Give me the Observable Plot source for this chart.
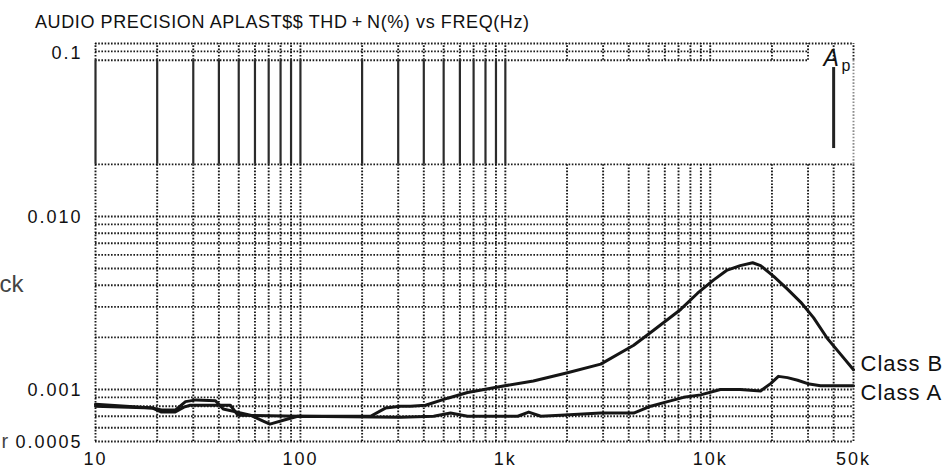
<!DOCTYPE html>
<html>
<head>
<meta charset="utf-8">
<script src="https://cdn.jsdelivr.net/npm/d3@7"></script>
<script src="https://cdn.jsdelivr.net/npm/@observablehq/plot@0.6"></script>
<style>
  html, body { margin: 0; padding: 0; background: #fff; }
  #wrap { position: relative; width: 949px; height: 469px; }
  #title { position: absolute; left: 35px; top: 13px; font: 18px/18px 'Liberation Sans', Arial, sans-serif; letter-spacing: 0.6px; color: #111; white-space: nowrap; }
</style>
</head>
<body>
<div id="wrap"><div id="chart"></div><div id="title"></div></div>
<script>
// ---- Data ----
const titleText = "AUDIO PRECISION APLAST$$ THD\u2009+\u2009N(%) vs FREQ(Hz)";

const freqTicks = [10, 100, 1000, 10000, 50000];
const freqTickLabels = ["10", "100", "1k", "10k", "50k"];
const thdTicks = [0.1, 0.01, 0.001, 0.0005];
const thdTickLabels = ["0.1", "0.010", "0.001", "0.0005"];

const seriesNames = ["Class B", "Class A"];

const classBFreq = [10, 19, 21, 24.5, 27, 29, 45.5, 49.5, 100, 220, 260, 308, 345, 408, 523, 654, 948, 1370, 2010, 2920, 4230, 5290, 7170, 8670, 10400, 12100, 14000, 16100, 17600, 20400, 23800, 27600, 31900, 37300, 43200, 50000];
const classBThd = [0.00080, 0.00078, 0.00074, 0.00074, 0.00079, 0.00081, 0.00081, 0.00071, 0.00070, 0.00070, 0.00078, 0.00080, 0.00080, 0.00081, 0.00089, 0.00096, 0.00104, 0.00112, 0.00125, 0.00140, 0.00180, 0.00220, 0.00290, 0.00360, 0.00430, 0.00490, 0.00520, 0.00540, 0.00520, 0.00450, 0.00380, 0.00320, 0.00260, 0.00197, 0.00160, 0.00130];

const classAFreq = [10, 19, 21, 24.5, 27.5, 31, 38.5, 42, 57, 65, 71, 85, 97, 308, 447, 540, 654, 1150, 1300, 1490, 1860, 2920, 4230, 5120, 6190, 7410, 8980, 11200, 14000, 17600, 19700, 21500, 23800, 26700, 29900, 34500, 50000];
const classAThd = [0.00082, 0.00078, 0.00076, 0.00076, 0.00085, 0.00087, 0.00086, 0.00077, 0.00071, 0.00066, 0.00063, 0.00067, 0.00070, 0.00069, 0.00070, 0.00073, 0.00070, 0.00070, 0.00074, 0.00070, 0.00071, 0.00073, 0.00073, 0.00080, 0.00085, 0.00090, 0.00093, 0.00100, 0.00100, 0.00098, 0.00108, 0.00119, 0.00117, 0.00113, 0.00108, 0.00105, 0.00105];

// grid lines of the analyzer plot
const gridFreqs = [10, 20, 30, 40, 50, 60, 70, 80, 90, 100, 200, 300, 400, 500, 600, 700, 800, 900, 1000, 2000, 3000, 4000, 5000, 6000, 7000, 8000, 9000, 10000, 20000, 30000, 40000, 50000];
const bandFreqs = [10, 20, 30, 40, 50, 60, 70, 80, 90, 100, 200, 300, 400, 500, 600, 700, 800, 900, 1000];
const gridThdFull = [0.0005, 0.0006, 0.0007, 0.0008, 0.0009, 0.001, 0.002, 0.003, 0.004, 0.005, 0.006, 0.007, 0.008, 0.009, 0.01, 0.02, 0.1];
const gridThdShort = [0.08, 0.09];
const logoBar = [{f: 40000, lo: 0.0247, hi: 0.0726}];

// ---- Build table ----
const rows = [];
classBFreq.forEach((f, i) => rows.push({series: seriesNames[0], f, v: classBThd[i]}));
classAFreq.forEach((f, i) => rows.push({series: seriesNames[1], f, v: classAThd[i]}));
const endB = [{series: seriesNames[0], f: classBFreq[classBFreq.length - 1], v: classBThd[classBThd.length - 1]}];
const endA = [{series: seriesNames[1], f: classAFreq[classAFreq.length - 1], v: classAThd[classAThd.length - 1]}];

const dotted = {stroke: "#000", strokeWidth: 1.9, strokeDasharray: "1.6 1.6", strokeOpacity: 0.9};
const font = "'Liberation Sans', Arial, Helvetica, sans-serif";
const fLabel = d => freqTickLabels[freqTicks.indexOf(d)];
const yLabel = d => thdTickLabels[thdTicks.indexOf(d)];

const chart = Plot.plot({
  width: 949,
  height: 469,
  marginLeft: 95,
  marginRight: 96,
  marginTop: 43,
  marginBottom: 28,
  style: {fontFamily: font, background: "#fff", color: "#111", overflow: "visible"},
  x: {type: "log", domain: [10, 50000], axis: null, label: null},
  y: {type: "log", domain: [0.0005, 0.1], axis: null, label: null},
  marks: [
    // horizontal dotted grid
    Plot.ruleY(gridThdFull, {y: d => d, x1: 10, x2: 50000, ...dotted}),
    Plot.ruleY(gridThdShort, {y: d => d, x1: 10, x2: 30000, ...dotted}),
    // vertical dotted grid (lower part and top strip)
    Plot.ruleX(gridFreqs, {x: d => d, y1: 0.0005, y2: 0.02, ...dotted}),
    Plot.ruleX(gridFreqs, {x: d => d, y1: 0.08, y2: 0.1, ...dotted}),
    Plot.ruleX([50000], {x: d => d, y1: 0.02, y2: 0.08, ...dotted, strokeOpacity: 0.45}),
    // solid band lines in upper decade
    Plot.ruleX(bandFreqs, {x: d => d, y1: 0.02, y2: 0.08, stroke: "#2b2b2b", strokeWidth: 2.2}),
    // Ap logo bar
    Plot.ruleX(logoBar, {x: "f", y1: "lo", y2: "hi", stroke: "#222", strokeWidth: 3}),
    // curves
    Plot.line(rows, {x: "f", y: "v", z: "series", stroke: "#151515", strokeWidth: 3, strokeLinejoin: "round"}),
    // series labels
    Plot.text(endB, {x: "f", y: "v", text: "series", dx: 7, dy: -6, textAnchor: "start", lineAnchor: "middle", fontSize: 22, fill: "#111"}),
    Plot.text(endA, {x: "f", y: "v", text: "series", dx: 7, dy: 7, textAnchor: "start", lineAnchor: "middle", fontSize: 22, fill: "#111"}),
    // tick labels
    Plot.text(freqTicks, {x: d => d, text: fLabel, frameAnchor: "bottom", dy: 18, lineAnchor: "middle", textAnchor: "middle", fontSize: 18, fill: "#111"}),
    Plot.text(thdTicks.slice(0, 1), {y: d => d, text: yLabel, frameAnchor: "left", dx: -13, dy: 10, lineAnchor: "middle", textAnchor: "end", fontSize: 18, fill: "#111"}),
    Plot.text(thdTicks.slice(1), {y: d => d, text: yLabel, frameAnchor: "left", dx: -13, dy: 1, lineAnchor: "middle", textAnchor: "end", fontSize: 18, fill: "#111"}),
    // logo & stray fragments of neighbouring text
    Plot.text(["A"], {frameAnchor: "top-right", dx: -30, dy: 22, textAnchor: "start", lineAnchor: "bottom", fontSize: 23, fontStyle: "italic", fill: "#111"}),
    Plot.text(["p"], {frameAnchor: "top-right", dx: -12, dy: 27, textAnchor: "start", lineAnchor: "bottom", fontSize: 16, fill: "#111"}),
    Plot.text(["ck"], {frameAnchor: "top-left", dx: -96, dy: 248, textAnchor: "start", lineAnchor: "bottom", fontSize: 24, fontWeight: 300, fill: "#444"}),
    Plot.text(["r"], {frameAnchor: "top-left", dx: -94, dy: 404, textAnchor: "start", lineAnchor: "bottom", fontSize: 20, fontWeight: 300, fill: "#444"})
  ]
});
document.getElementById("chart").appendChild(chart);
document.getElementById("title").textContent = titleText;

// letter spacing to match the wide typeface of the original
d3.select(chart).selectAll("text").each(function() {
  const t = this.textContent;
  if (freqTickLabels.includes(t) || thdTickLabels.includes(t)) this.setAttribute("letter-spacing", "2");
  else if (seriesNames.includes(t)) this.setAttribute("letter-spacing", "1");
});
</script>
</body>
</html>
